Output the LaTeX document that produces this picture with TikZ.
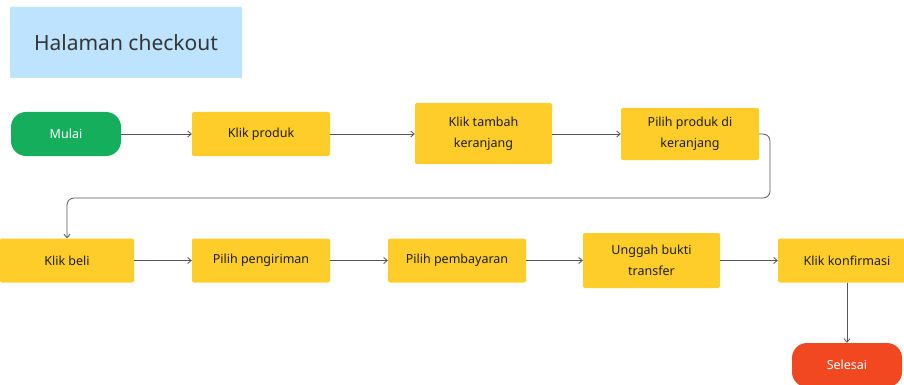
\documentclass[tikz,border=0pt]{standalone}
\usepackage{fontspec}
\setmainfont{Noto Sans}
\usetikzlibrary{arrows.meta, positioning}
\definecolor{stepyellow}{HTML}{FFCD29}
\definecolor{startgreen}{HTML}{14AE5C}
\definecolor{endred}{HTML}{F24822}
\definecolor{titleblue}{HTML}{BDE3FF}
\definecolor{inkgray}{HTML}{1E1E1E}
\definecolor{linegray}{HTML}{555555}

\begin{document}
\begin{tikzpicture}[
    x=1pt, y=-1pt,
    stepbox/.style={fill=stepyellow, rounded corners=2pt, align=center, minimum width=138pt, minimum height=44pt, inner sep=2pt, text=inkgray, font=\fontsize{12.5}{21}\selectfont},
    pillbox/.style={rounded corners=15pt, minimum width=110pt, minimum height=44pt, text=white, font=\fontsize{12.5}{21}\selectfont},
    flow/.style={-{Straight Barb[length=3.5pt, width=6pt]}, draw=linegray, line width=0.8pt}
]
\useasboundingbox (0,0) rectangle (904,385);
\node[fill=titleblue, rounded corners=1pt, minimum width=232pt, minimum height=71pt, text=inkgray!90, font=\fontsize{21}{25}\selectfont] (title) at (126,42.5) {Halaman checkout};

\node[pillbox, fill=startgreen] (mulai) at (66,134) {Mulai};
\node[stepbox] (klikproduk) at (261,134) {Klik produk};
\node[stepbox, minimum width=137pt, minimum height=61pt] (tambah) at (483.5,133.5) {Klik tambah\\keranjang};
\node[stepbox, minimum height=52pt] (pilihproduk) at (690,134) {Pilih produk di\\keranjang};

\node[stepbox, minimum width=134pt] (klikbeli) at (67,260.5) {Klik beli};
\node[stepbox] (kirim) at (261,260.5) {Pilih pengiriman};
\node[stepbox] (bayar) at (457,260.5) {Pilih pembayaran};
\node[stepbox, minimum width=137pt, minimum height=55pt] (unggah) at (651.5,260.5) {Unggah bukti\\transfer};
\node[stepbox] (konfirmasi) at (847,260.5) {Klik konfirmasi};
\node[pillbox, fill=endred] (selesai) at (847,365) {Selesai};

\coordinate (turn) at (770,198);

\draw[flow] (mulai) -- (klikproduk);
\draw[flow] (klikproduk) -- (klikproduk -| tambah.west);
\draw[flow] (tambah.east |- pilihproduk) -- (pilihproduk);
\draw[flow, rounded corners=7pt] (pilihproduk.east) -| (turn) -| (klikbeli.north);
\draw[flow] (klikbeli) -- (kirim);
\draw[flow] (kirim) -- (bayar);
\draw[flow] (bayar) -- (unggah);
\draw[flow] (unggah) -- (konfirmasi);
\draw[flow] (konfirmasi) -- (selesai);
\end{tikzpicture}
\end{document}
